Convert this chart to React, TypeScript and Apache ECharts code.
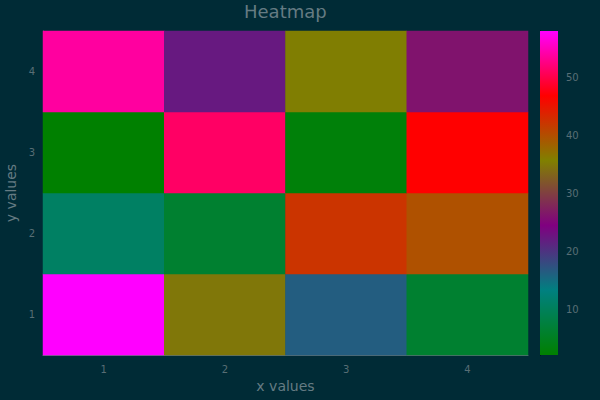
import React, { useEffect, useRef } from "react";
import * as echarts from "echarts";

const xCategories = ["1", "2", "3", "4"];
const yCategories = ["1", "2", "3", "4"];
// values[row y][column x]
const rowY1 = [58.0, 34.9, 16.4, 6.4];
const rowY2 = [10.8, 6.4, 42.3, 39.8];
const rowY3 = [2.2, 51.2, 3.0, 46.8];
const rowY4 = [53.8, 22.3, 35.5, 26.2];
const rows = [rowY1, rowY2, rowY3, rowY4];
const colorStops = ["#008000", "#008080", "#800080", "#808000", "#ff0000", "#ff00ff"];
const colorbarTicks = [10, 20, 30, 40, 50];

const BG = "#002b36";
const TXT = "#657b83";
const TICK = "#586e75";
const FONT = "DejaVu Sans";

export default function App() {
  const ref = useRef<HTMLDivElement>(null);
  useEffect(() => {
    if (!ref.current) return;
    const chart = echarts.init(ref.current, undefined, { renderer: "svg" });
    const data: number[][] = [];
    rows.forEach((row, yi) => row.forEach((v, xi) => data.push([xi, yi, v])));
    const all = rows.flat();
    const vmin = Math.min(...all);
    const vmax = Math.max(...all);
    const gradStops = colorStops.map((c, i) => ({ offset: i / (colorStops.length - 1), color: c }));

    chart.setOption({
      animation: false,
      backgroundColor: BG,
      textStyle: { fontFamily: FONT },
      title: {
        text: "Heatmap",
        left: 244,
        top: 2,
        padding: 0,
        textStyle: { color: TXT, fontSize: 18, fontWeight: "normal", fontFamily: FONT },
      },
      grid: [
        { left: 43, right: 72, top: 31, bottom: 45, containLabel: false, outerBoundsMode: "none" },
        { left: 540, width: 18, top: 31, bottom: 45, containLabel: false, outerBoundsMode: "none" },
      ],
      xAxis: [
        {
          type: "category",
          data: xCategories,
          gridIndex: 0,
          name: "x values",
          nameLocation: "middle",
          nameGap: 22,
          nameTextStyle: { color: TXT, fontSize: 14, fontFamily: FONT },
          axisLine: { show: true, lineStyle: { color: TICK, width: 1 } },
          axisTick: { show: true, alignWithLabel: true, inside: true, length: 2, lineStyle: { color: "#7a8f95" } },
          axisLabel: { color: TICK, fontSize: 10, margin: 9, fontFamily: FONT },
          splitLine: { show: false },
        },
        { type: "value", gridIndex: 1, min: 0, max: 1, show: false },
      ],
      yAxis: [
        {
          type: "category",
          data: yCategories,
          gridIndex: 0,
          name: "y values",
          nameLocation: "middle",
          nameGap: 25,
          nameTextStyle: { color: TXT, fontSize: 14, fontFamily: FONT },
          axisLine: { show: true, lineStyle: { color: TICK, width: 1 } },
          axisTick: { show: true, alignWithLabel: true, inside: true, length: 2, lineStyle: { color: "#7a8f95" } },
          axisLabel: { color: TICK, fontSize: 10, margin: 8, fontFamily: FONT },
          splitLine: { show: false },
        },
        {
          type: "value",
          gridIndex: 1,
          position: "right",
          min: vmin,
          max: vmax,
          axisLine: { show: true, lineStyle: { color: "#000000", width: 1 } },
          axisTick: { show: true, length: 4, lineStyle: { color: TICK }, customValues: colorbarTicks },
          axisLabel: { color: TICK, fontSize: 10, margin: 8, fontFamily: FONT, customValues: colorbarTicks },
          splitLine: { show: false },
        },
      ],
      visualMap: {
        show: false,
        type: "continuous",
        min: vmin,
        max: vmax,
        seriesIndex: 0,
        dimension: 2,
        inRange: { color: colorStops },
      },
      series: [
        {
          type: "heatmap",
          xAxisIndex: 0,
          yAxisIndex: 0,
          data,
          itemStyle: { borderWidth: 0 },
          label: { show: false },
        },
        {
          type: "custom",
          xAxisIndex: 1,
          yAxisIndex: 1,
          data: [[0, vmin, vmax]],
          z: 1,
          renderItem: (params: any, api: any) => {
            const p1 = api.coord([0, api.value(2)]);
            const p2 = api.coord([1, api.value(1)]);
            return {
              type: "rect",
              shape: { x: p1[0], y: p1[1], width: p2[0] - p1[0], height: p2[1] - p1[1] },
              style: {
                fill: new echarts.graphic.LinearGradient(0, 1, 0, 0, gradStops),
              },
            };
          },
        },
      ],
    });
    return () => chart.dispose();
  }, []);
  return (
    <div
      ref={ref}
      style={{ position: "fixed", left: 0, top: 0, width: 600, height: 400 }}
    />
  );
}
